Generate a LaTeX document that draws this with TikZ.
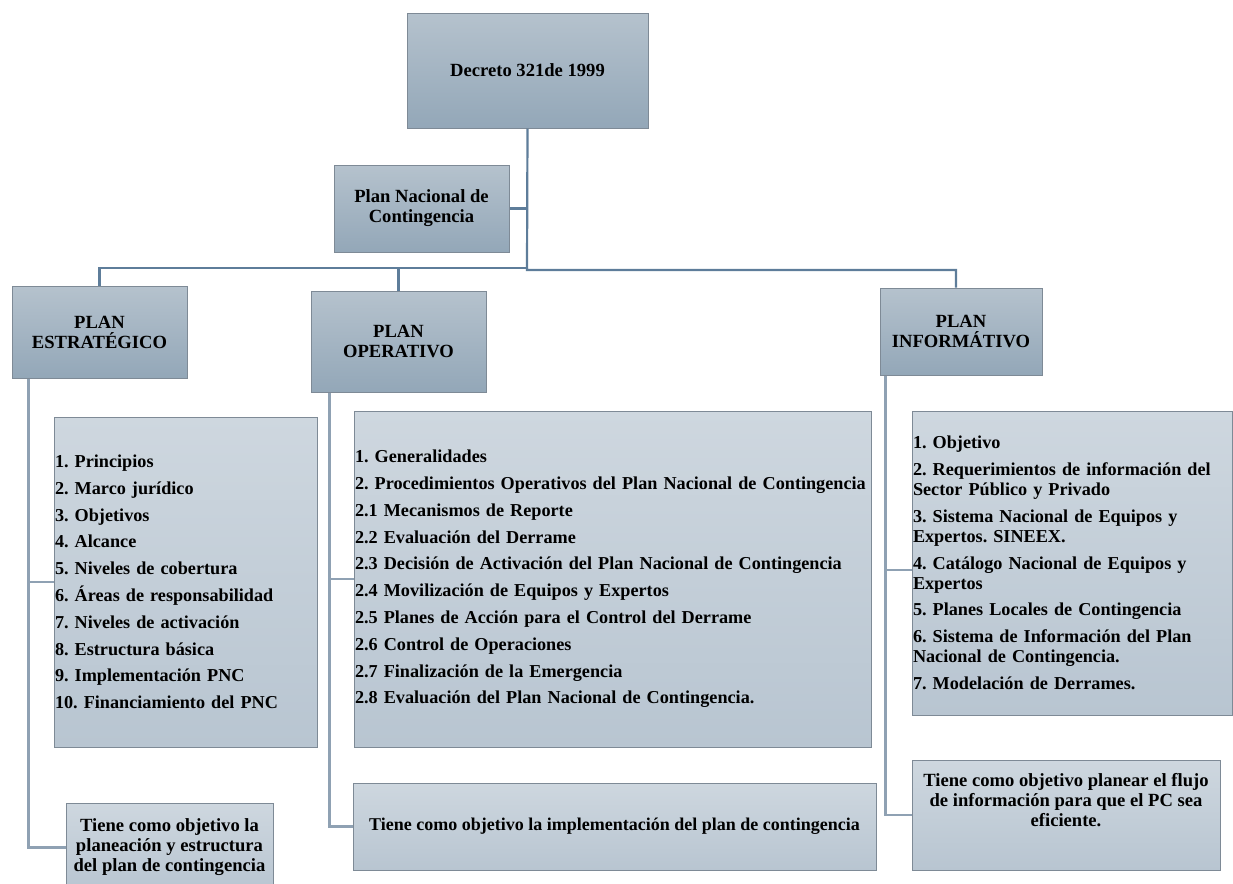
\documentclass[tikz,border=0pt]{standalone}
\usepackage{fontspec}
\setmainfont{Liberation Serif}
\usepackage{tikz}
\usetikzlibrary{positioning}
\definecolor{linkblue}{HTML}{5E7D9A}
\definecolor{trunkgray}{HTML}{8FA1B3}
\definecolor{boxedge}{HTML}{7E8A96}
\definecolor{hdrtop}{HTML}{B5C2CD}
\definecolor{hdrbot}{HTML}{93A7B8}
\definecolor{listtop}{HTML}{CED7DF}
\definecolor{listbot}{HTML}{B8C5D1}
\frenchspacing
\hyphenpenalty=10000
\exhyphenpenalty=10000

\begin{document}
\begin{tikzpicture}[
x=0.5pt, y=-0.5pt,
font=\fontsize{9.3}{10}\selectfont\bfseries,
header/.style={draw=boxedge, line width=0.5pt, top color=hdrtop, bottom color=hdrbot, align=center, inner sep=1pt},
listbox/.style={draw=boxedge, line width=0.5pt, top color=listtop, bottom color=listbot, align=left, inner xsep=0.5pt, inner ysep=0pt, font=\fontsize{9.1}{10}\selectfont\bfseries},
notebox/.style={draw=boxedge, line width=0.5pt, top color=listtop, bottom color=listbot, align=center, inner sep=1pt},
link/.style={draw=linkblue, line width=1.1pt},
trunk/.style={draw=trunkgray, line width=1.2pt}
]
\useasboundingbox (0,0) rectangle (1233,884);

% Top of the tree
\node[header, minimum width=120.5pt, minimum height=57.5pt] (dec) at (527.5,70.5) {Decreto 321de 1999};
\node[header, minimum width=87.5pt, minimum height=43.5pt] (pnc) at (421.5,208.5) {Plan Nacional de\\Contingencia};

% The three plans
\node[header, minimum width=87.5pt, minimum height=46pt] (est) at (99.5,332) {PLAN\\ESTRATÉGICO};
\node[header, minimum width=87.5pt, minimum height=50.5pt] (ope) at (398.5,341.5) {PLAN\\OPERATIVO};
\node[header, minimum width=81pt, minimum height=43.5pt] (inf) at (961,331.5) {PLAN\\INFORMÁTIVO};

% Contents
\node[listbox, text width=130.5pt, minimum height=165pt] (l1) at (185.5,582) {
1. Principios\\[3.4pt]
2. Marco jurídico\\[3.4pt]
3. Objetivos\\[3.4pt]
4. Alcance\\[3.4pt]
5. Niveles de cobertura\\[3.4pt]
6. Áreas de responsabilidad\\[3.4pt]
7. Niveles de activación\\[3.4pt]
8. Estructura básica\\[3.4pt]
9. Implementación PNC\\[3.4pt]
10. Financiamiento del PNC};
\node[listbox, text width=257.5pt, minimum height=168pt] (l2) at (612.5,579) {
1. Generalidades\\[3.4pt]
2. Procedimientos Operativos del Plan Nacional de Contingencia\\[3.4pt]
2.1 Mecanismos de Reporte\\[3.4pt]
2.2 Evaluación del Derrame\\[3.4pt]
2.3 Decisión de Activación del Plan Nacional de Contingencia\\[3.4pt]
2.4 Movilización de Equipos y Expertos\\[3.4pt]
2.5 Planes de Acción para el Control del Derrame\\[3.4pt]
2.6 Control de Operaciones\\[3.4pt]
2.7 Finalización de la Emergencia\\[3.4pt]
2.8 Evaluación del Plan Nacional de Contingencia.};
\node[listbox, text width=159pt, minimum height=152pt] (l3) at (1072,563) {
1. Objetivo\\[3.4pt]
2. Requerimientos de información del\\Sector Público y Privado\\[3.4pt]
3. Sistema Nacional de Equipos y\\Expertos. SINEEX.\\[3.4pt]
4. Catálogo Nacional de Equipos y\\Expertos\\[3.4pt]
5. Planes Locales de Contingencia\\[3.4pt]
6. Sistema de Información del Plan\\Nacional de Contingencia.\\[3.4pt]
7. Modelación de Derrames.};

% Objectives
\node[notebox, minimum width=103.5pt, minimum height=44.5pt] (b1) at (169.5,847.5) {Tiene como objetivo la\\planeación y estructura\\del plan de contingencia};
\node[notebox, minimum width=261.5pt, minimum height=43.5pt, font=\fontsize{9}{10}\selectfont\bfseries] (b2) at (614.5,826.5) {Tiene como objetivo la implementación del plan de contingencia};
\node[notebox, minimum width=154pt, minimum height=55pt] (b3) at (1066,815) {};
\node[align=center, inner sep=0pt] (b3txt) at ([yshift=7.5pt]b3.center) {Tiene como objetivo planear el flujo\\de información para que el PC sea\\eficiente.};

% Draw links
\coordinate (busL) at (527,268);
\coordinate (busR) at (527,270);
\draw[link] (dec.south) -- (busR) -| ([xshift=-2.5pt]inf.north);
\draw[link] (pnc.east) -- (pnc.east -| dec.south);
\draw[link] (busL) -| (est.north);
\draw[link] (busL) -| (ope.north);

% Draw trunks
\coordinate (estT) at ([xshift=8.5pt]est.south west);
\coordinate (opeT) at ([xshift=9.5pt]ope.south west);
\coordinate (infT) at ([xshift=3pt]inf.south west);
\coordinate (l3in) at ([yshift=-3.5pt]l3.west);
\draw[trunk] (estT) |- (b1.west);
\draw[trunk] (estT |- l1.west) -- (l1.west);
\draw[trunk] (opeT) |- (b2.west);
\draw[trunk] (opeT |- l2.west) -- (l2.west);
\draw[trunk] (infT) |- (b3.west);
\draw[trunk] (infT |- l3in) -- (l3in);
\end{tikzpicture}
\end{document}
